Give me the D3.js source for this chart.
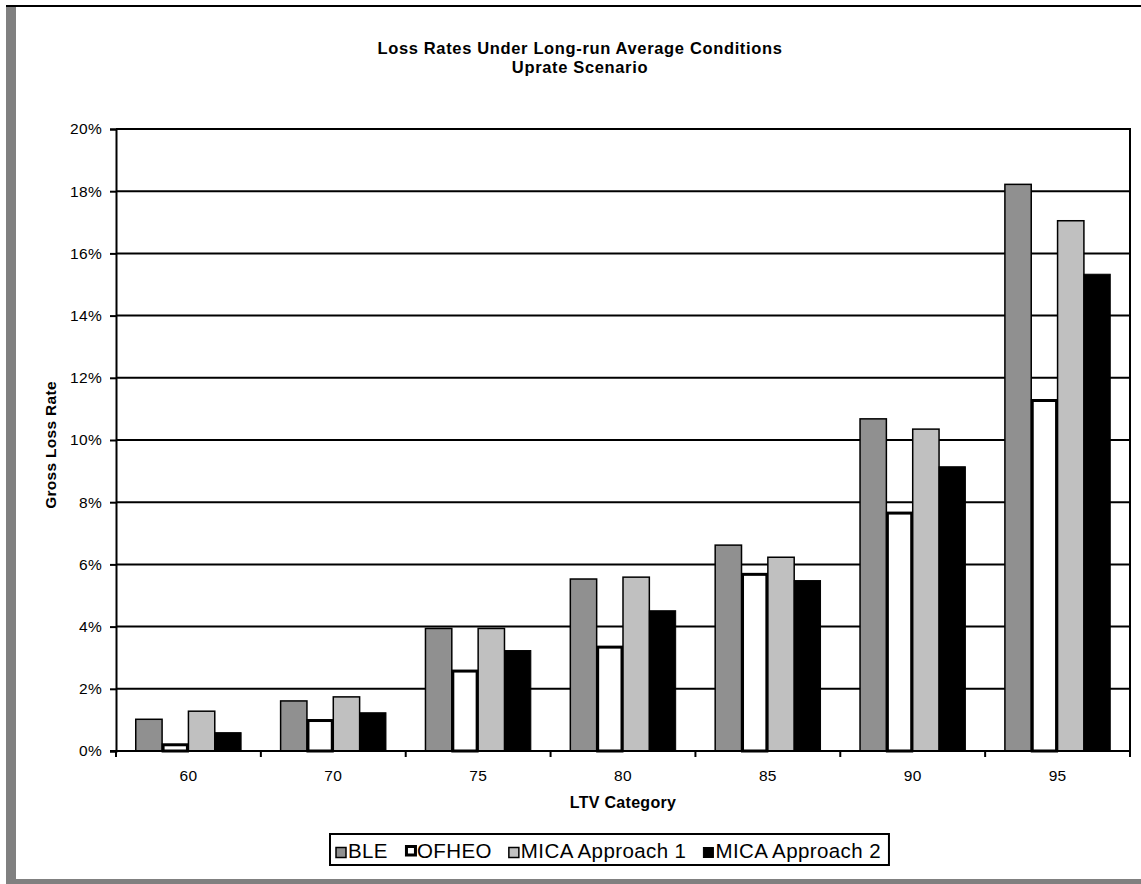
<!DOCTYPE html>
<html>
<head>
<meta charset="utf-8">
<script src="https://cdn.jsdelivr.net/npm/d3@7"></script>
<style>
  html, body { margin: 0; padding: 0; background: #fff; }
  svg { display: block; }
  text { font-family: "Liberation Sans", Arial, sans-serif; fill: #000; }
</style>
</head>
<body>
<svg id="chart" width="1141" height="884"></svg>
<script>
// LTV categories on the x axis
const categories = ["60", "70", "75", "80", "85", "90", "95"];

// Series names in legend order
const seriesNames = ["BLE", "OFHEO", "MICA Approach 1", "MICA Approach 2"];

// Gross loss rates (%) by LTV category
const bleValues   = [1.02, 1.61, 3.94, 5.53, 6.62, 10.68, 18.22];
const ofheoValues = [0.20, 0.98, 2.57, 3.34, 5.68, 7.65, 11.27];
const mica1Values = [1.28, 1.74, 3.94, 5.59, 6.23, 10.35, 17.05];
const mica2Values = [0.59, 1.23, 3.23, 4.51, 5.48, 9.14, 15.33];

// Y axis tick values (%)
const yTicks = [0, 2, 4, 6, 8, 10, 12, 14, 16, 18, 20];

const titleLines = ["Loss Rates Under Long-run Average Conditions", "Uprate Scenario"];
const xTitle = "LTV Category";
const yTitle = "Gross Loss Rate";

const seriesValues = [bleValues, ofheoValues, mica1Values, mica2Values];
const seriesStyle = [
  { fill: "#909090", stroke: "#000", sw: 1.5 },
  { fill: "#ffffff", stroke: "#000", sw: 3 },
  { fill: "#c0c0c0", stroke: "#000", sw: 1.5 },
  { fill: "#000000", stroke: "#000", sw: 1 }
];

const svg = d3.select("#chart");
const W = 1141, H = 884;

// Outer frame: black top rule, grey left and bottom edges
svg.append("rect").attr("x", 6).attr("y", 5).attr("width", W - 6).attr("height", 2).attr("fill", "#000");
svg.append("rect").attr("x", 6).attr("y", 7).attr("width", 10).attr("height", H - 7).attr("fill", "#808080");
svg.append("rect").attr("x", 6).attr("y", 879).attr("width", W - 6).attr("height", 5).attr("fill", "#808080");

const plot = { left: 116, right: 1130, top: 129, bottom: 751 };

const x0 = d3.scaleBand().domain(categories).range([plot.left, plot.right]).padding(0);
const x1 = d3.scaleBand().domain(seriesNames).range([0, x0.bandwidth()])
  .paddingInner(0).paddingOuter(0.75);
const y = d3.scaleLinear().domain([0, 20]).range([plot.bottom, plot.top]);

// Horizontal gridlines
svg.append("g").selectAll("line").data(yTicks.filter(d => d > 0)).join("line")
  .attr("x1", plot.left).attr("x2", plot.right)
  .attr("y1", d => y(d)).attr("y2", d => y(d))
  .attr("stroke", "#000").attr("stroke-width", 2);

// Plot area right border
svg.append("line").attr("x1", plot.right).attr("x2", plot.right)
  .attr("y1", plot.top - 1).attr("y2", plot.bottom)
  .attr("stroke", "#000").attr("stroke-width", 2);

// Bars
const groups = svg.append("g").selectAll("g").data(categories).join("g")
  .attr("transform", c => `translate(${x0(c)},0)`);

groups.selectAll("rect")
  .data((c, ci) => seriesNames.map((s, si) => ({ s, si, v: seriesValues[si][ci] })))
  .join("rect")
  .attr("x", d => x1(d.s) + (d.si === 1 ? 1 : 0))
  .attr("width", d => x1.bandwidth() - (d.si === 1 ? 2 : 0))
  .attr("y", d => y(d.v))
  .attr("height", d => y(0) - y(d.v))
  .attr("fill", d => seriesStyle[d.si].fill)
  .attr("stroke", d => seriesStyle[d.si].stroke)
  .attr("stroke-width", d => seriesStyle[d.si].sw);

// Y axis
const yAxis = d3.axisLeft(y).tickValues(yTicks).tickFormat(d => d + "%").tickSize(6).tickPadding(8);
const gy = svg.append("g").attr("transform", `translate(${plot.left},0)`).call(yAxis);
gy.select(".domain").attr("stroke", "#000").attr("stroke-width", 2);
gy.selectAll(".tick line").attr("stroke", "#000").attr("stroke-width", 2);
gy.selectAll(".tick text").attr("font-size", 15.5).attr("letter-spacing", 0.3)
  .attr("font-family", "Liberation Sans, Arial, sans-serif");

// X axis with tick marks on the category boundaries
const xAxis = d3.axisBottom(x0).tickSize(0).tickPadding(19);
const gx = svg.append("g").attr("transform", `translate(0,${plot.bottom})`).call(xAxis);
gx.select(".domain").remove();
gx.selectAll(".tick text").attr("font-size", 15.5).attr("letter-spacing", 0.3)
  .attr("font-family", "Liberation Sans, Arial, sans-serif");
svg.append("line").attr("x1", plot.left - 6).attr("x2", plot.right + 1)
  .attr("y1", plot.bottom).attr("y2", plot.bottom)
  .attr("stroke", "#000").attr("stroke-width", 2);
const boundaries = categories.map(c => x0(c)).concat([x0.range()[1]]);
svg.append("g").selectAll("line").data(boundaries).join("line")
  .attr("x1", d => d).attr("x2", d => d)
  .attr("y1", plot.bottom).attr("y2", plot.bottom + 6)
  .attr("stroke", "#000").attr("stroke-width", 2);

// Titles
const title = svg.append("text").attr("text-anchor", "middle")
  .attr("font-size", 16.5).attr("font-weight", "bold").attr("letter-spacing", 0.65);
titleLines.forEach((t, i) => {
  title.append("tspan").attr("x", 580).attr("y", 54 + i * 19).text(t);
});

svg.append("text").attr("x", (plot.left + plot.right) / 2).attr("y", 808)
  .attr("text-anchor", "middle").attr("font-size", 16).attr("font-weight", "bold")
  .attr("letter-spacing", 0.3)
  .text(xTitle);

svg.append("text").attr("transform", "translate(56,445) rotate(-90)")
  .attr("text-anchor", "middle").attr("font-size", 15.5).attr("font-weight", "bold")
  .attr("letter-spacing", 0.3)
  .text(yTitle);

// Legend
const legend = svg.append("g");
const legendBox = legend.append("rect")
  .attr("fill", "#fff").attr("stroke", "#000").attr("stroke-width", 2);
const lgFont = 20.5;
const itemGap = 17;
let lx = 336;
const baseY = 858;
seriesNames.forEach((s, i) => {
  const st = seriesStyle[i];
  if (i === 1) {
    legend.append("rect").attr("x", lx + 1.5).attr("y", baseY - 11.5)
      .attr("width", 9).attr("height", 8.5)
      .attr("fill", st.fill).attr("stroke", "#000").attr("stroke-width", st.sw);
  } else {
    legend.append("rect").attr("x", lx).attr("y", baseY - 10.5)
      .attr("width", 10).attr("height", 10)
      .attr("fill", st.fill).attr("stroke", "#000").attr("stroke-width", st.sw);
  }
  const t = legend.append("text").attr("x", lx + 12).attr("y", baseY)
    .attr("font-size", lgFont).attr("letter-spacing", 0.4).text(s);
  lx += 12 + t.node().getComputedTextLength() + itemGap;
});
legendBox.attr("x", 330).attr("y", 834).attr("width", lx - itemGap - 330 + 8).attr("height", 31);
</script>
</body>
</html>
